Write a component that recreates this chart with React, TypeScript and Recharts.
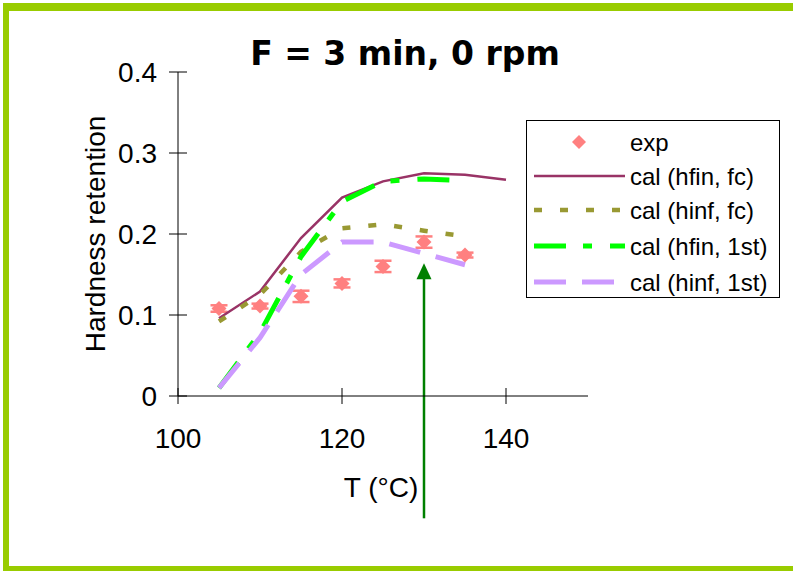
import React from "react";
import { ComposedChart, ErrorBar, Line, ReferenceLine, Scatter, XAxis, YAxis } from "recharts";

const temps = [105, 110, 115, 120, 125, 130, 135, 140];
const hfinFc = [0.096, 0.129, 0.195, 0.245, 0.265, 0.275, 0.273, 0.267];
const hinfFc = [0.092, 0.125, 0.178, 0.207, 0.212, 0.204, 0.197, null];
const hfin1st = [0.01, 0.078, 0.172, 0.24, 0.265, 0.268, 0.266, null];
const hinf1st = [0.01, 0.072, 0.15, 0.19, 0.19, 0.176, 0.162, null];

const expTemps = [105, 110, 115, 120, 125, 130, 135];
const expValues = [0.108, 0.111, 0.123, 0.139, 0.16, 0.19, 0.174];
const expErrors = [0.004, 0.003, 0.007, 0.005, 0.007, 0.007, 0.003];

const seriesNames = ["exp", "cal (hfin, fc)", "cal (hinf, fc)", "cal (hfin, 1st)", "cal (hinf, 1st)"];
const xTicks = [100, 120, 140];
const yTicks = [0, 0.1, 0.2, 0.3, 0.4];
const titleText = "F = 3 min, 0 rpm";
const xLabel = "T (°C)";
const yLabel = "Hardness retention";

// arrow marking T = 130
const arrowT = 130;
const arrowFrom = -0.151;
const arrowTo = 0.164;

const lineData = temps.map((T, i) => ({
  T,
  hfinFc: hfinFc[i],
  hinfFc: hinfFc[i],
  hfin1st: hfin1st[i],
  hinf1st: hinf1st[i],
}));
const expData = expTemps.map((T, i) => ({ T, exp: expValues[i], err: expErrors[i] }));

const FONT = "'Liberation Sans', Arial, sans-serif";
const EXP_COLOR = "#FF8080";

const lineStyles = [
  { key: "hfinFc", color: "#993366", width: 2.5, dash: undefined },
  { key: "hinfFc", color: "#999933", width: 4.5, dash: "8 18" },
  { key: "hfin1st", color: "#00FF00", width: 5, dash: "32 17 9 18" },
  { key: "hinf1st", color: "#CC99FF", width: 5, dash: "32 16" },
];

const YTick = (props: any) => {
  const { x, y, payload } = props;
  const v = payload.value;
  return (
    <g>
      <line x1={x - 9} x2={x + 9} y1={y} y2={y} stroke="#000" />
      <text x={x - 21} y={y} dy="0.36em" textAnchor="end" fontFamily={FONT} fontSize={28} fill="#000">
        {v === 0 ? "0" : v.toFixed(1)}
      </text>
    </g>
  );
};

const XTick = (props: any) => {
  const { x, y, payload } = props;
  return (
    <g>
      <line x1={x} x2={x} y1={y - 8} y2={y + 8} stroke="#000" />
      <text x={x} y={y + 52} textAnchor="middle" fontFamily={FONT} fontSize={28} fill="#000">
        {String(payload.value)}
      </text>
    </g>
  );
};

const Diamond = (props: any) => {
  const { cx, cy } = props;
  const r = 7.5;
  return <polygon points={`${cx},${cy - r} ${cx + r},${cy} ${cx},${cy + r} ${cx - r},${cy}`} fill={EXP_COLOR} />;
};

const Arrow = (props: any) => {
  const { x1, y1, x2, y2 } = props;
  const tipY = Math.min(y1, y2);
  const baseY = Math.max(y1, y2);
  return (
    <g>
      <line x1={x1} x2={x2} y1={baseY} y2={tipY + 14} stroke="#008000" strokeWidth={2.5} />
      <polygon points={`${x2},${tipY} ${x2 + 7.5},${tipY + 16} ${x2 - 7.5},${tipY + 16}`} fill="#008000" />
    </g>
  );
};

function ChartLegend() {
  const rowY = [22, 56, 90, 126, 162];
  return (
    <svg width={254} height={178} style={{ position: "absolute", left: 526, top: 120 }}>
      <rect x={0.5} y={0.5} width={253} height={177} fill="#fff" stroke="#000" />
      {seriesNames.map((name, i) => {
        const cy = rowY[i];
        let sample: React.ReactNode;
        if (i === 0) {
          sample = (
            <polygon points={`53,${cy - 7} 60,${cy} 53,${cy + 7} 46,${cy}`} fill={EXP_COLOR} />
          );
        } else {
          const s = lineStyles[i - 1];
          sample = (
            <line x1={8} x2={99} y1={cy} y2={cy} stroke={s.color} strokeWidth={s.width} strokeDasharray={s.dash} />
          );
        }
        return (
          <g key={name}>
            {sample}
            <text x={104} y={cy + 9} fontFamily={FONT} fontSize={24} fill="#000">
              {name}
            </text>
          </g>
        );
      })}
    </svg>
  );
}

export default function App() {
  return (
    <div style={{ position: "absolute", left: 0, top: 0, width: 793, height: 571, overflow: "hidden", background: "#fff" }}>
      <div
        style={{
          position: "absolute",
          left: 3,
          top: 3,
          width: 830,
          height: 570,
          borderTop: "8px solid #99CC00",
          borderLeft: "6px solid #99CC00",
          borderBottom: "7px solid #99CC00",
          boxSizing: "border-box",
        }}
      />
      <div
        style={{
          position: "absolute",
          left: 0,
          top: 37,
          width: 810,
          textAlign: "center",
          fontFamily: "'DejaVu Sans', sans-serif",
          fontWeight: "bold",
          fontSize: 33,
          lineHeight: "33px",
          color: "#000",
        }}
      >
        {titleText}
      </div>
      <div style={{ position: "absolute", left: 0, top: 0 }}>
        <ComposedChart width={793} height={571} data={lineData} margin={{ top: 72, right: 205, left: 78, bottom: 115 }}>
          <XAxis
            dataKey="T"
            type="number"
            domain={[100, 150]}
            ticks={xTicks}
            allowDataOverflow
            stroke="#000"
            tickLine={false}
            tickSize={0}
            tickMargin={0}
            height={60}
            tick={<XTick />}
            label={(p: any) => {
              const vb = p.viewBox;
              return (
                <text x={vb.x + vb.width / 2 - 2} y={vb.y + 101} textAnchor="middle" fontFamily={FONT} fontSize={28} fill="#000">
                  {xLabel}
                </text>
              );
            }}
          />
          <YAxis
            type="number"
            domain={[0, 0.4]}
            ticks={yTicks}
            stroke="#000"
            tickLine={false}
            tickSize={0}
            tickMargin={0}
            width={100}
            tick={<YTick />}
            label={(p: any) => {
              const vb = p.viewBox;
              const cx = vb.x + 27;
              const cy = vb.y + vb.height / 2;
              return (
                <text x={cx} y={cy} transform={`rotate(-90, ${cx}, ${cy})`} textAnchor="middle" fontFamily={FONT} fontSize={28} fill="#000">
                  {yLabel}
                </text>
              );
            }}
          />
          <Scatter data={expData} dataKey="exp" shape={<Diamond />} isAnimationActive={false}>
            <ErrorBar dataKey="err" direction="y" width={8.5} stroke={EXP_COLOR} strokeWidth={2.5} isAnimationActive={false} />
          </Scatter>
          {lineStyles.map((s) => (
            <Line
              key={s.key}
              dataKey={s.key}
              type="linear"
              stroke={s.color}
              strokeWidth={s.width}
              strokeDasharray={s.dash}
              dot={false}
              activeDot={false}
              isAnimationActive={false}
            />
          ))}
          <ReferenceLine
            segment={[
              { x: arrowT, y: arrowFrom },
              { x: arrowT, y: arrowTo },
            ]}
            ifOverflow="visible"
            shape={<Arrow />}
          />
        </ComposedChart>
      </div>
      <ChartLegend />
    </div>
  );
}
